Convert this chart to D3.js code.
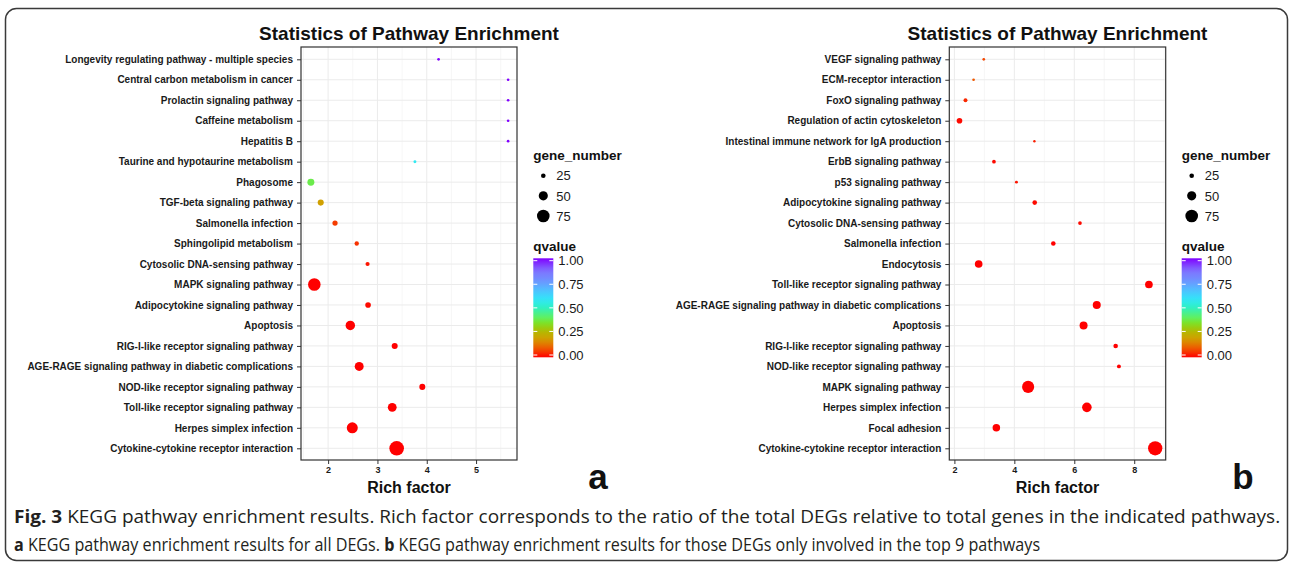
<!DOCTYPE html>
<html>
<head>
<meta charset="utf-8">
<script src="https://cdn.jsdelivr.net/npm/d3@7"></script>
<style>
  body { margin: 0; background: #fff; }
  svg text { font-family: "Liberation Sans", Arial, sans-serif; }
</style>
</head>
<body>
<div id="chart"></div>
<script>
// ---- data, panel a (top row first) ----
const pathwaysA = [
  "Longevity regulating pathway - multiple species",
  "Central carbon metabolism in cancer",
  "Prolactin signaling pathway",
  "Caffeine metabolism",
  "Hepatitis B",
  "Taurine and hypotaurine metabolism",
  "Phagosome",
  "TGF-beta signaling pathway",
  "Salmonella infection",
  "Sphingolipid metabolism",
  "Cytosolic DNA-sensing pathway",
  "MAPK signaling pathway",
  "Adipocytokine signaling pathway",
  "Apoptosis",
  "RIG-I-like receptor signaling pathway",
  "AGE-RAGE signaling pathway in diabetic complications",
  "NOD-like receptor signaling pathway",
  "Toll-like receptor signaling pathway",
  "Herpes simplex infection",
  "Cytokine-cytokine receptor interaction"
];
const richA   = [4.24, 5.65, 5.65, 5.65, 5.65, 3.76, 1.65, 1.85, 2.14, 2.58, 2.80, 1.72, 2.81, 2.45, 3.35, 2.63, 3.91, 3.30, 2.49, 3.39];
const genesA  = [17, 17, 17, 17, 17, 18, 37, 32, 28, 24, 23, 75, 30, 52, 32, 49, 32, 48, 63, 92];
const qvalueA = [1.0, 1.0, 1.0, 1.0, 1.0, 0.57, 0.38, 0.19, 0.06, 0.05, 0.02, 0, 0.01, 0, 0, 0, 0, 0, 0, 0];

// ---- data, panel b ----
const pathwaysB = [
  "VEGF signaling pathway",
  "ECM-receptor interaction",
  "FoxO signaling pathway",
  "Regulation of actin cytoskeleton",
  "Intestinal immune network for IgA production",
  "ErbB signaling pathway",
  "p53 signaling pathway",
  "Adipocytokine signaling pathway",
  "Cytosolic DNA-sensing pathway",
  "Salmonella infection",
  "Endocytosis",
  "Toll-like receptor signaling pathway",
  "AGE-RAGE signaling pathway in diabetic complications",
  "Apoptosis",
  "RIG-I-like receptor signaling pathway",
  "NOD-like receptor signaling pathway",
  "MAPK signaling pathway",
  "Herpes simplex infection",
  "Focal adhesion",
  "Cytokine-cytokine receptor interaction"
];
const richB   = [2.98, 2.64, 2.37, 2.17, 4.67, 3.32, 4.07, 4.68, 6.19, 5.30, 2.81, 8.49, 6.75, 6.31, 7.38, 7.49, 4.46, 6.42, 3.40, 8.70];
const genesB  = [17, 17, 22, 30, 16, 21, 18, 25, 21, 25, 41, 41, 43, 43, 25, 22, 71, 53, 40, 89];
const qvalueB = [0.07, 0.09, 0.04, 0.01, 0.03, 0.01, 0.02, 0.01, 0.01, 0, 0, 0, 0, 0, 0, 0, 0, 0, 0, 0];

const ticksA = [2, 3, 4, 5];
const minorA = [1.5, 2.5, 3.5, 4.5, 5.5];
const ticksB = [2, 4, 6, 8];
const minorB = [3, 5, 7, 9];
const sizeBreaks = [25, 50, 75];
const qBreaks = [0, 0.25, 0.5, 0.75, 1];

const titleText = "Statistics of Pathway Enrichment";
const xLabel = "Rich factor";
const sizeTitle = "gene_number";
const colorTitle = "qvalue";
const caption1 = [["Fig. 3", true], [" KEGG pathway enrichment results. Rich factor corresponds to the ratio of the total DEGs relative to total genes in the indicated pathways.", false]];
const caption2 = [["a", true], [" KEGG pathway enrichment results for all DEGs. ", false], ["b", true], [" KEGG pathway enrichment results for those DEGs only involved in the top 9 pathways", false]];

// ---- shared scales ----
const colorStops = [0, 0.08, 0.18, 0.26, 0.34, 0.40, 0.5, 0.58, 0.68, 0.78, 0.88, 1];
const colorVals  = ["#ff0000", "#f25000", "#d49c00", "#b4b800", "#80e020", "#60f060", "#30f0c0", "#30e8f8", "#50c0ff", "#7090ff", "#8070ff", "#8000ff"];
const color = d3.scaleLinear().domain(colorStops).range(colorVals).interpolate(d3.interpolateRgb);
const size = d3.scaleSqrt().domain([25, 75]).range([2.3, 6.3]);

const W = 1292, H = 567;
const svg = d3.select("#chart").append("svg").attr("width", W).attr("height", H);

// outer frame
svg.append("rect").attr("x", 5.5).attr("y", 8.5).attr("width", 1282).attr("height", 552)
  .attr("rx", 11).attr("fill", "none").attr("stroke", "#3a3a3a").attr("stroke-width", 1.5);

const boxTop = 47, boxBottom = 460, rowTop = 59.3, rowBottom = 448.3;

function drawPanel(p) {
  const g = svg.append("g");
  const x = d3.scaleLinear().domain(p.domain).range([p.left, p.right]);
  const y = d3.scalePoint().domain(p.names).range([rowTop, rowBottom]);

  // grid
  g.selectAll(".minor").data(p.minor).enter().append("line")
    .attr("x1", d => x(d)).attr("x2", d => x(d)).attr("y1", boxTop).attr("y2", boxBottom)
    .attr("stroke", "#f0f0f0").attr("stroke-width", 0.6);
  g.selectAll(".major").data(p.ticks).enter().append("line")
    .attr("x1", d => x(d)).attr("x2", d => x(d)).attr("y1", boxTop).attr("y2", boxBottom)
    .attr("stroke", "#ebebeb").attr("stroke-width", 1);
  g.selectAll(".hgrid").data(p.names).enter().append("line")
    .attr("x1", p.left).attr("x2", p.right).attr("y1", d => y(d)).attr("y2", d => y(d))
    .attr("stroke", "#ebebeb").attr("stroke-width", 1);

  // points
  const rows = p.names.map((n, i) => ({ name: n, rich: p.rich[i], genes: p.genes[i], q: p.q[i] }));
  g.selectAll(".dot").data(rows).enter().append("circle")
    .attr("cx", d => x(d.rich)).attr("cy", d => y(d.name))
    .attr("r", d => size(d.genes)).attr("fill", d => color(d.q));

  // panel border
  g.append("rect").attr("x", p.left).attr("y", boxTop)
    .attr("width", p.right - p.left).attr("height", boxBottom - boxTop)
    .attr("fill", "none").attr("stroke", "#333").attr("stroke-width", 1.2);

  // axes
  const ya = g.append("g").attr("transform", `translate(${p.left},0)`)
    .call(d3.axisLeft(y).tickSize(4).tickPadding(4));
  ya.select(".domain").remove();
  ya.selectAll("line").attr("stroke", "#333");
  ya.selectAll("text").attr("font-size", 10).attr("font-weight", "bold").attr("fill", "#1a1a1a")
    .style("font-family", "'Liberation Sans', Arial, sans-serif");

  const xa = g.append("g").attr("transform", `translate(0,${boxBottom})`)
    .call(d3.axisBottom(x).tickValues(p.ticks).tickFormat(d3.format("d")).tickSize(4).tickPadding(3));
  xa.select(".domain").remove();
  xa.selectAll("line").attr("stroke", "#333");
  xa.selectAll("text").attr("font-size", 9).attr("font-weight", "bold").attr("fill", "#1a1a1a")
    .style("font-family", "'Liberation Sans', Arial, sans-serif");

  const cx = (p.left + p.right) / 2;
  g.append("text").attr("x", cx).attr("y", 40).attr("text-anchor", "middle")
    .attr("font-size", 19).attr("font-weight", "bold").attr("fill", "#111").text(titleText);
  g.append("text").attr("x", cx).attr("y", 493).attr("text-anchor", "middle")
    .attr("font-size", 16).attr("font-weight", "bold").attr("fill", "#111").text(xLabel);

  // panel letter
  g.append("text").attr("x", p.letterX).attr("y", 489).attr("text-anchor", "middle")
    .attr("font-size", 35).attr("font-weight", "bold").attr("fill", "#111").text(p.letter);

  // size legend
  const lx = p.legendX;
  g.append("text").attr("x", lx).attr("y", 160).attr("font-size", 13.5).attr("font-weight", "bold")
    .attr("fill", "#111").text(sizeTitle);
  const ly = d3.scalePoint().domain(sizeBreaks).range([175.7, 216]);
  g.selectAll(".skey").data(sizeBreaks).enter().append("circle")
    .attr("cx", lx + 10).attr("cy", d => ly(d)).attr("r", d => size(d)).attr("fill", "#000");
  g.selectAll(".slab").data(sizeBreaks).enter().append("text")
    .attr("x", lx + 23).attr("y", d => ly(d)).attr("dy", "0.36em")
    .attr("font-size", 13).attr("fill", "#1a1a1a").text(d => d);

  // colour bar
  g.append("text").attr("x", lx).attr("y", 251).attr("font-size", 13.5).attr("font-weight", "bold")
    .attr("fill", "#111").text(colorTitle);
  const cy = d3.scaleLinear().domain([0, 1]).range([355, 260.7]);
  const gid = "grad" + p.letter;
  const grad = svg.append("defs").append("linearGradient").attr("id", gid)
    .attr("x1", 0).attr("y1", 1).attr("x2", 0).attr("y2", 0);
  d3.range(0, 1.0001, 0.05).forEach(t => {
    grad.append("stop").attr("offset", t).attr("stop-color", color(t));
  });
  g.append("rect").attr("x", lx).attr("y", 258.3).attr("width", 20).attr("height", 99)
    .attr("fill", `url(#${gid})`);
  g.selectAll(".ctl").data(qBreaks).enter().append("line")
    .attr("x1", lx).attr("x2", lx + 4).attr("y1", d => cy(d)).attr("y2", d => cy(d))
    .attr("stroke", "#fff").attr("stroke-width", 1);
  g.selectAll(".ctr").data(qBreaks).enter().append("line")
    .attr("x1", lx + 16).attr("x2", lx + 20).attr("y1", d => cy(d)).attr("y2", d => cy(d))
    .attr("stroke", "#fff").attr("stroke-width", 1);
  g.selectAll(".clab").data(qBreaks).enter().append("text")
    .attr("x", lx + 25).attr("y", d => cy(d)).attr("dy", "0.36em")
    .attr("font-size", 13).attr("fill", "#1a1a1a").text(d => d3.format(".2f")(d));
}

drawPanel({ names: pathwaysA, rich: richA, genes: genesA, q: qvalueA,
  domain: [1.45, 5.83], left: 301, right: 517, ticks: ticksA, minor: minorA,
  legendX: 533.3, letter: "a", letterX: 598 });
drawPanel({ names: pathwaysB, rich: richB, genes: genesB, q: qvalueB,
  domain: [1.83, 9.05], left: 949.3, right: 1165.7, ticks: ticksB, minor: minorB,
  legendX: 1181.7, letter: "b", letterX: 1243 });

// caption, stretched horizontally to the printed width
function captionLine(parts, baseline, x0, x1) {
  const g = svg.append("g");
  const t = g.append("text").attr("font-size", 18.5).attr("fill", "#231f20")
    .style("font-family", "'Open Sans', 'Noto Sans', sans-serif");
  parts.forEach(([s, bold]) => {
    t.append("tspan").attr("font-weight", bold ? "bold" : "normal").text(s);
  });
  const w = t.node().getComputedTextLength();
  g.attr("transform", `translate(${x0},${baseline}) scale(${(x1 - x0) / w},1)`);
}
captionLine(caption1, 523, 14, 1281);
captionLine(caption2, 551, 14, 1041);
</script>
</body>
</html>
